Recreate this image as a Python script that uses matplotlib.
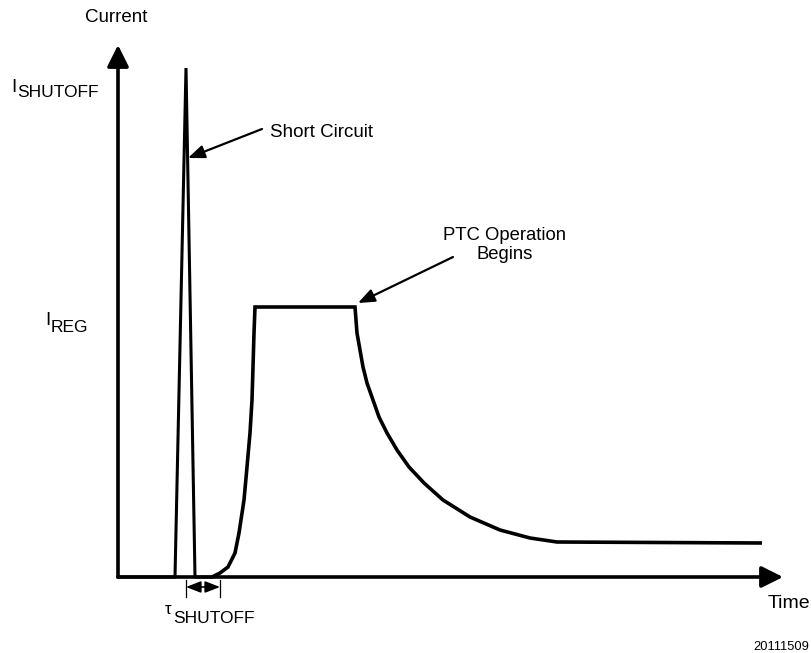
import matplotlib.pyplot as plt

plt.rcParams['font.family'] = ['Liberation Sans', 'DejaVu Sans']

# units: time / current in drawing units, origin at the axes corner
# spike (short circuit)
spike_t = [0, 57, 68, 77, 94]
spike_i = [0, 0, 509, 0, 0]

# rise up to regulation current
rise_t = [94, 102, 110, 117, 121, 126, 129, 132, 134, 135, 136, 137]
rise_i = [0, 4, 10, 24, 44, 77, 110, 144, 177, 210, 244, 270]

# regulation plateau then PTC decay
decay_t = [237, 238, 239, 242, 245, 249, 255, 261, 269, 279, 291, 306,
           325, 352, 382, 412, 439, 644]
decay_i = [270, 257, 244, 227, 210, 194, 177, 160, 144, 127, 110, 94,
           77, 60, 47, 39, 35, 34]

i_top = 532   # y axis arrow tip
t_end = 665   # x axis arrow tip

tau_start = 68
tau_end = 102

fig = plt.figure(figsize=(8.12, 6.53), dpi=100)
ax = fig.add_axes([0, 0, 1, 1])
ax.set_xlim(-118, 694)
ax.set_ylim(-76, 577)
ax.axis('off')

# axes with arrows
arrow_style = '-|>,head_length=1.3,head_width=0.65'
ax.annotate('', xy=(0, i_top), xytext=(0, 0),
            arrowprops=dict(arrowstyle=arrow_style, lw=2.6, color='black',
                            shrinkA=0, shrinkB=0, mutation_scale=10))
ax.annotate('', xy=(t_end, 0), xytext=(0, 0),
            arrowprops=dict(arrowstyle=arrow_style, lw=2.6, color='black',
                            shrinkA=0, shrinkB=0, mutation_scale=10))

# current trace
ax.plot(spike_t, spike_i, color='black', lw=2.2, solid_joinstyle='miter')
ax.plot(rise_t + decay_t, rise_i + decay_i, color='black', lw=2.6,
        solid_joinstyle='miter', solid_capstyle='butt')

# tau shutoff marker
for t in (tau_start, tau_end):
    ax.plot([t, t], [-3, -20], color='black', lw=0.9)
ax.annotate('', xy=(tau_end, -10), xytext=(tau_start, -10),
            arrowprops=dict(arrowstyle='<|-|>,head_length=0.9,head_width=0.35',
                            lw=1.2, color='black', shrinkA=0, shrinkB=0,
                            mutation_scale=10))

# annotations
ax.annotate('', xy=(70, 419), xytext=(144, 448),
            arrowprops=dict(arrowstyle='-|>,head_length=1.0,head_width=0.4',
                            lw=1.6, color='black', shrinkA=0, shrinkB=0,
                            mutation_scale=10))
ax.annotate('', xy=(240, 274), xytext=(335, 320),
            arrowprops=dict(arrowstyle='-|>,head_length=1.0,head_width=0.4',
                            lw=1.6, color='black', shrinkA=0, shrinkB=0,
                            mutation_scale=10))

ax.text(152, 440, 'Short Circuit', fontsize=13.5, va='baseline', ha='left')
ax.text(387, 350, 'PTC Operation\nBegins', fontsize=13.3, ha='center',
        va='top', multialignment='center', linespacing=1.15)

# axis labels
ax.text(-2, 559, 'Current', fontsize=13.5, ha='center', va='center')
ax.text(650, -31, 'Time', fontsize=14, ha='left', va='baseline')

ax.text(-107, 485, 'I', fontsize=13.5, ha='left', va='baseline')
ax.text(-101, 480, 'SHUTOFF', fontsize=12.5, ha='left', va='baseline')
ax.text(-73, 252, 'I', fontsize=13.5, ha='left', va='baseline')
ax.text(-67, 245, 'REG', fontsize=12.5, ha='left', va='baseline')

ax.text(47, -37, '\u03c4', fontsize=12, ha='left', va='baseline')
ax.text(55, -46, 'SHUTOFF', fontsize=12.5, ha='left', va='baseline')

ax.text(691, -73, '20111509', fontsize=9.3, ha='right', va='baseline')

fig.savefig('out.png', dpi=100)
